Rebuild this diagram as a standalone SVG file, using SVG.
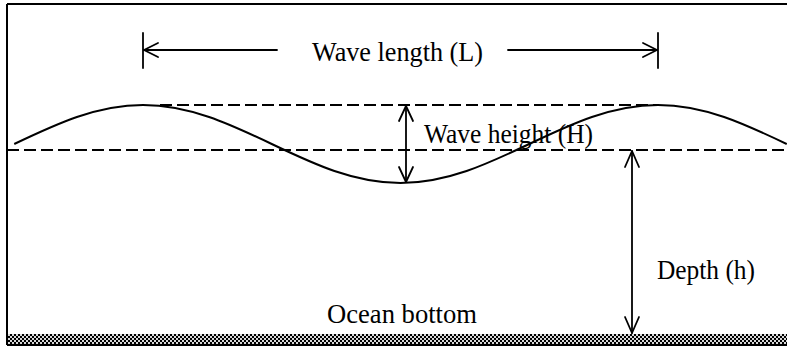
<svg xmlns="http://www.w3.org/2000/svg" width="787" height="353" viewBox="0 0 787 353">
  <defs>
    <pattern id="checker" x="0" y="0" width="4" height="4" patternUnits="userSpaceOnUse">
      <rect x="0" y="0" width="4" height="4" fill="#d8d8d8"/>
      <rect x="0" y="0" width="2" height="2" fill="#000000"/>
      <rect x="2" y="2" width="2" height="2" fill="#000000"/>
    </pattern>
  </defs>
  <style>
    .txt { font-family: "Liberation Serif", "Times New Roman", serif; font-size: 28px; fill: #000; }
    .line { stroke: #000; stroke-width: 2; fill: none; }
    .dash { stroke: #000; stroke-width: 2; fill: none; stroke-dasharray: 12 5; }
    .arrow { stroke: #000; stroke-width: 1.8; fill: none; stroke-linecap: round; stroke-linejoin: round; }
  </style>
  <rect x="0" y="0" width="787" height="353" fill="#ffffff"/>

  <g id="frame">
    <line class="line" x1="7" y1="4" x2="787" y2="4"/>
    <line class="line" x1="7" y1="4" x2="7" y2="345"/>
    <rect x="8" y="334" width="779" height="10" fill="url(#checker)"/>
    <line class="line" x1="7" y1="345" x2="787" y2="345"/>
  </g>

  <g id="levels">
    <line class="dash" x1="160" y1="105" x2="658" y2="105"/>
    <line class="dash" x1="7" y1="150" x2="787" y2="150"/>
  </g>

  <g id="wave">
    <path class="line" stroke-width="2.2" d="M14.25,144 C56.24,124.02 96.4,105 143,105 C189.6,105 229.76,124.02 271.75,144 C313.74,163.98 353.9,183 400.5,183 C447.1,183 487.26,163.98 529.25,144 C571.24,124.02 611.4,105 658,105 C704.6,105 744.76,124.02 786.75,144"/>
  </g>

  <g id="connectors">
    <g id="wave-length-arrow">
      <line class="arrow" x1="143" y1="33" x2="143" y2="68"/>
      <line class="arrow" x1="658" y1="33" x2="658" y2="68"/>
      <line class="arrow" x1="144" y1="50" x2="277" y2="50"/>
      <polyline class="arrow" points="158,43 144,50 158,57"/>
      <line class="arrow" x1="508" y1="50" x2="657" y2="50"/>
      <polyline class="arrow" points="643,43 657,50 643,57"/>
    </g>
    <g id="wave-height-arrow">
      <line class="arrow" x1="406" y1="106" x2="406" y2="182"/>
      <polyline class="arrow" points="399,121 406,106 413,121"/>
      <polyline class="arrow" points="399,167 406,182 413,167"/>
    </g>
    <g id="depth-arrow">
      <line class="arrow" x1="632" y1="151" x2="632" y2="333"/>
      <polyline class="arrow" points="625,167 632,151 639,167"/>
      <polyline class="arrow" points="625,317 632,333 639,317"/>
    </g>
  </g>

  <g id="labels">
    <text id="label-wave-length" class="txt" x="312" y="61" textLength="171" lengthAdjust="spacingAndGlyphs">Wave length (L)</text>
    <text id="label-wave-height" class="txt" x="424" y="143" textLength="169" lengthAdjust="spacingAndGlyphs">Wave height (H)</text>
    <text id="label-depth" class="txt" x="657" y="279" textLength="98" lengthAdjust="spacingAndGlyphs">Depth (h)</text>
    <text id="label-ocean-bottom" class="txt" x="327" y="323" textLength="150" lengthAdjust="spacingAndGlyphs">Ocean bottom</text>
  </g>
</svg>
